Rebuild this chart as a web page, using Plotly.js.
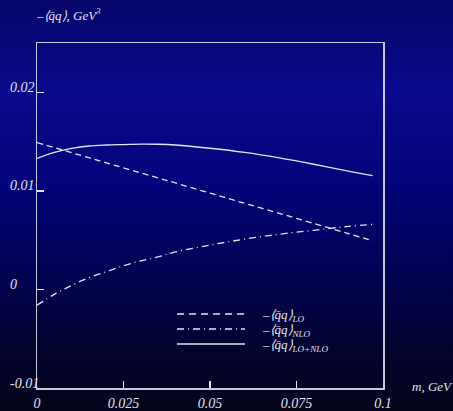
<!DOCTYPE html>
<html>
<head>
<meta charset="utf-8">
<script src="https://cdn.plot.ly/plotly-3.0.1.min.js"></script>
<style>
html,body{margin:0;padding:0;}
body{width:453px;height:411px;overflow:hidden;
background:linear-gradient(to bottom,#05056a 0%,#0a0a8c 22%,#03037a 45%,#020250 68%,#03032e 85%,#04041a 100%);}
#chart{width:453px;height:411px;}
</style>
</head>
<body>
<div id="chart"></div>
<script>
// data
const mass = [0, 0.005, 0.01, 0.015, 0.02, 0.025, 0.03, 0.035, 0.04, 0.05, 0.06, 0.07, 0.08, 0.09, 0.097];
const condLO = [0.0149, 0.01439, 0.01387, 0.01336, 0.01285, 0.01233, 0.01182, 0.01131, 0.0108, 0.00977, 0.00874, 0.00772, 0.00669, 0.00566, 0.00494];
const condNLO = [-0.0016, -0.0005, 0.0004, 0.0012, 0.0018, 0.0024, 0.0029, 0.0033, 0.0038, 0.0045, 0.0051, 0.0056, 0.0060, 0.0064, 0.0066];
const condSum = [0.0133, 0.0139, 0.0143, 0.01455, 0.01465, 0.0147, 0.01475, 0.01473, 0.01465, 0.01432, 0.0139, 0.01335, 0.0127, 0.012, 0.01155];
const seriesNames = ['–⟨q̄q⟩<sub>LO</sub>', '–⟨q̄q⟩<sub>NLO</sub>', '–⟨q̄q⟩<sub>LO+NLO</sub>'];
const xTickVals = [0, 0.025, 0.05, 0.075, 0.1];
const xTickText = ['0', '0.025', '0.05', '0.075', '0.1'];
const yTickVals = [-0.01, 0, 0.01, 0.02];
const yTickText = ['-0.01', '0', '0.01', '0.02'];

const ink = '#e2e2f0';
const fnt = 'Liberation Serif';
const dashes = ['6px,4px', '7px,4px,1px,4px', 'solid'];

const traces = [
  {x: mass, y: condLO, name: seriesNames[0], mode: 'lines', line: {color: ink, width: 1.3, dash: dashes[0], shape: 'spline'}},
  {x: mass, y: condNLO, name: seriesNames[1], mode: 'lines', line: {color: ink, width: 1.3, dash: dashes[1], shape: 'spline'}},
  {x: mass, y: condSum, name: seriesNames[2], mode: 'lines', line: {color: ink, width: 1.3, dash: dashes[2], shape: 'spline'}}
];

const yAnn = yTickVals.map((v, i) => ({
  xref: 'paper', yref: 'y', x: -29/346, y: v, xanchor: 'left', yanchor: 'middle', yshift: 5,
  text: '<i>' + yTickText[i] + '</i>', showarrow: false,
  font: {family: fnt, size: 14, color: ink}
}));

// hand-made legend (line samples + labels), positioned in paper coordinates
const legY = [(388-314)/345, (388-329)/345, (388-344)/345];
const legShapes = seriesNames.map((n, i) => ({
  type: 'line', xref: 'paper', yref: 'paper',
  x0: (177-37)/346, x1: (245-37)/346, y0: legY[i], y1: legY[i],
  line: {color: ink, width: 1.3, dash: i === 0 ? '7px,5px' : dashes[i]}
}));
const legAnn = seriesNames.map((n, i) => ({
  xref: 'paper', yref: 'paper', x: (260-37)/346, y: legY[i], xanchor: 'left', yanchor: 'middle', yshift: -1,
  text: '<i>' + n + '</i>', showarrow: false, font: {family: fnt, size: 13, color: ink}
}));

const layout = {
  width: 453, height: 411,
  margin: {l: 37, r: 70, t: 43, b: 23, pad: 0},
  paper_bgcolor: 'rgba(0,0,0,0)', plot_bgcolor: 'rgba(0,0,0,0)',
  font: {family: fnt, size: 14, color: ink},
  title: {text: '<i>–⟨q̄q⟩, GeV<sup>3</sup></i>', xref: 'container', yref: 'container',
    x: 37/453, xanchor: 'left', y: 1 - 15/411, yanchor: 'middle',
    font: {family: fnt, size: 13, color: ink}},
  xaxis: {range: [0, 0.1], tickvals: xTickVals, ticktext: xTickText.map(t => '<i>' + t + '</i>'),
    ticks: 'inside', ticklen: 7, tickwidth: 1.5, tickcolor: ink,
    showline: true, linecolor: '#c8c8dc', linewidth: 1.5, mirror: true,
    showgrid: false, zeroline: false, ticklabelstandoff: 2,
    tickfont: {family: fnt, size: 14, color: ink}},
  yaxis: {range: [-0.01, 0.025], tickvals: yTickVals, showticklabels: false,
    ticks: 'inside', ticklen: 7, tickwidth: 1.5, tickcolor: ink,
    showline: true, linecolor: '#c8c8dc', linewidth: 1.5, mirror: true,
    showgrid: false, zeroline: false},
  showlegend: false,
  shapes: legShapes,
  annotations: yAnn.concat(legAnn).concat([
    {xref: 'paper', yref: 'paper', x: (410-37)/346, y: (388-386)/345, xanchor: 'left', yanchor: 'middle',
     text: '<i>m, GeV</i>', showarrow: false, font: {family: fnt, size: 13, color: ink}}
  ])
};

Plotly.newPlot('chart', traces, layout, {displayModeBar: false, staticPlot: true});
</script>
</body>
</html>
